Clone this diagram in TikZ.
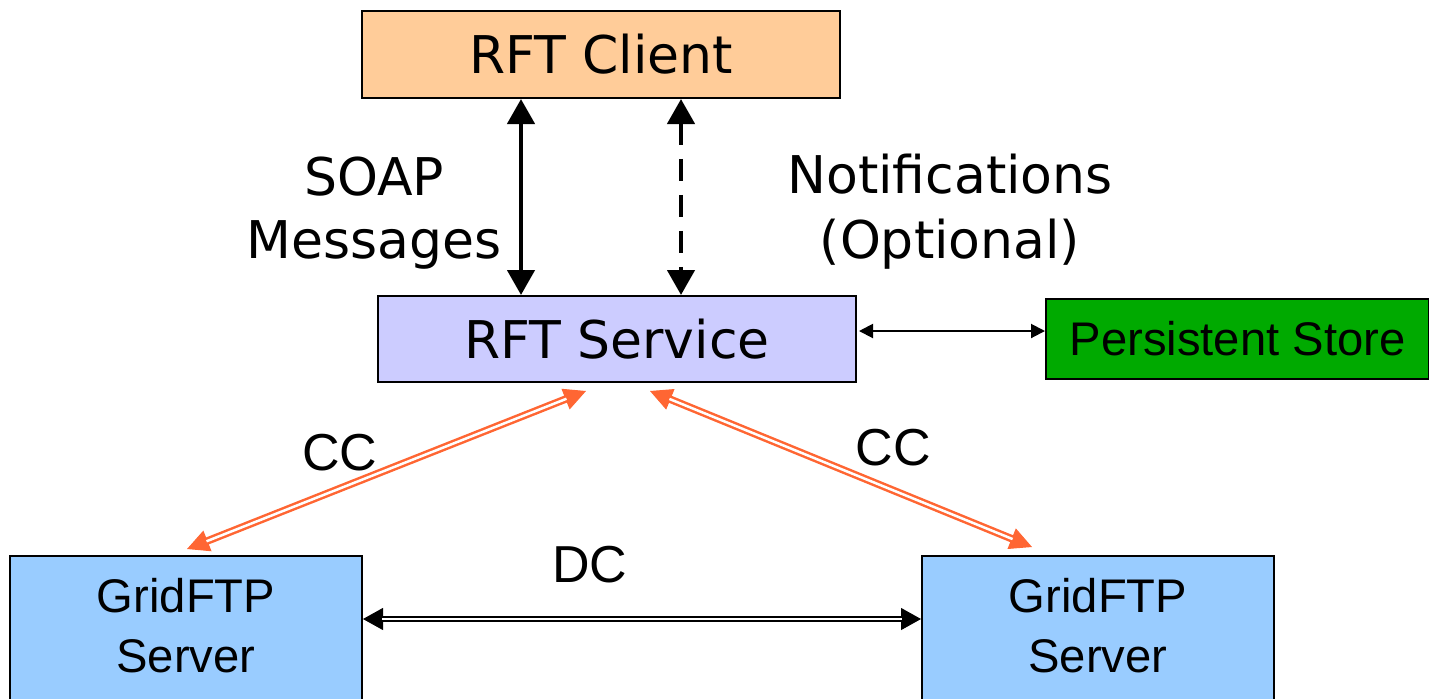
\documentclass[tikz,border=0pt]{standalone}
\usepackage{fontspec}
\setmainfont{DejaVu Sans}
\newfontfamily\arialfont{Liberation Sans}
\usetikzlibrary{arrows.meta,calc}

\definecolor{clientfill}{HTML}{FFCC99}
\definecolor{servicefill}{HTML}{CCCCFF}
\definecolor{storefill}{HTML}{00AA00}
\definecolor{ftpfill}{HTML}{99CCFF}
\definecolor{ccorange}{HTML}{FF6633}

\tikzset{
  box/.style={draw=black, line width=1pt, inner sep=0pt},
  vfont/.style={font=\fontsize{26}{31}\selectfont},
  afont/.style={font=\arialfont\fontsize{26}{30}\selectfont},
  sfont/.style={font=\arialfont\fontsize{23.6}{28}\selectfont},
  bigarrow/.style={line width=2.25pt, {Triangle[length=12.5pt,width=13.5pt]}-{Triangle[length=12.5pt,width=13.5pt]}},
  smallarrow/.style={line width=1pt, {Triangle[length=7pt,width=7pt]}-{Triangle[length=7pt,width=7pt]}},
  % tips of a double connector, drawn under the double line itself
  cctips/.style={draw=ccorange, line width=0.5pt, {Triangle[length=11pt,width=11pt]}-{Triangle[length=11pt,width=11pt]}},
  ccline/.style={draw=ccorange, line width=1.25pt, double=white, double distance=1.25pt, shorten <=10.5pt, shorten >=10.5pt},
  dctips/.style={draw=black, line width=0.5pt, {Triangle[length=10pt,width=11pt]}-{Triangle[length=10pt,width=11pt]}},
  dcline/.style={draw=black, line width=1pt, double=white, double distance=1.25pt, shorten <=9.5pt, shorten >=9.5pt},
}

\begin{document}
\begin{tikzpicture}[x=0.5pt,y=-0.5pt]
\useasboundingbox (0,0) rectangle (1429,698);

% boxes
\node[box, fill=clientfill, minimum width=239pt, minimum height=43.5pt, vfont] (client) at (601,54.5) {RFT Client};
\node[box, fill=servicefill, minimum width=239pt, minimum height=43pt, vfont] (service) at (617,339) {RFT Service};
\node[box, fill=storefill, minimum width=191.5pt, minimum height=40pt, sfont] (store) at (1237.5,339) {Persistent Store};
\node[box, fill=ftpfill, minimum width=176pt, minimum height=80pt] (ftpL) at (186,636) {};
\node[box, fill=ftpfill, minimum width=176pt, minimum height=80pt] (ftpR) at (1098,636) {};

% labels
\node[vfont, anchor=base] (soapA) at (374,195) {SOAP};
\node[vfont, anchor=base] (soapB) at (374,258) {Messages};
\node[vfont, anchor=base] (notA) at (950,193) {Notifications};
\node[vfont, anchor=base] (notB) at (950,258) {(Optional)};
\node[afont, anchor=base] (ccL) at (340,470) {CC};
\node[afont, anchor=base] (ccR) at (893,465) {CC};
\node[afont, anchor=base] (dc) at (590,582) {DC};
\node[sfont, anchor=base] (ftpLa) at (186,612) {GridFTP};
\node[sfont, anchor=base] (ftpLb) at (186,672) {Server};
\node[sfont, anchor=base] (ftpRa) at (1098,612) {GridFTP};
\node[sfont, anchor=base] (ftpRb) at (1098,672) {Server};

% client <-> service
\draw[bigarrow] ($(client.south west)+(160,0)$) -- ($(service.north west)+(144,0)$);
\draw[bigarrow, dash pattern=on 11pt off 7pt] ($(client.south west)+(320,0)$) -- ($(service.north west)+(304,0)$);

% service <-> store
\draw[smallarrow] ([xshift=1pt,yshift=4pt]service.east) -- ([yshift=4pt]store.west);

% control channels
\coordinate (ccLtop) at ($(service.south west)+(209,8)$);
\coordinate (ccLbot) at ($(ftpL.north west)+(178,-6)$);
\coordinate (ccRtop) at ($(service.south west)+(273,8)$);
\coordinate (ccRbot) at ($(ftpR.north west)+(111,-8)$);
\draw[cctips] (ccLtop) -- (ccLbot);
\draw[ccline] (ccLtop) -- (ccLbot);
\draw[cctips] (ccRtop) -- (ccRbot);
\draw[ccline] (ccRtop) -- (ccRbot);

% data channel
\coordinate (dcL) at ($(ftpL.north east)+(0,64)$);
\coordinate (dcR) at ($(ftpR.north west)+(0,64)$);
\draw[dctips] (dcL) -- (dcR);
\draw[dcline] (dcL) -- (dcR);
\end{tikzpicture}
\end{document}
